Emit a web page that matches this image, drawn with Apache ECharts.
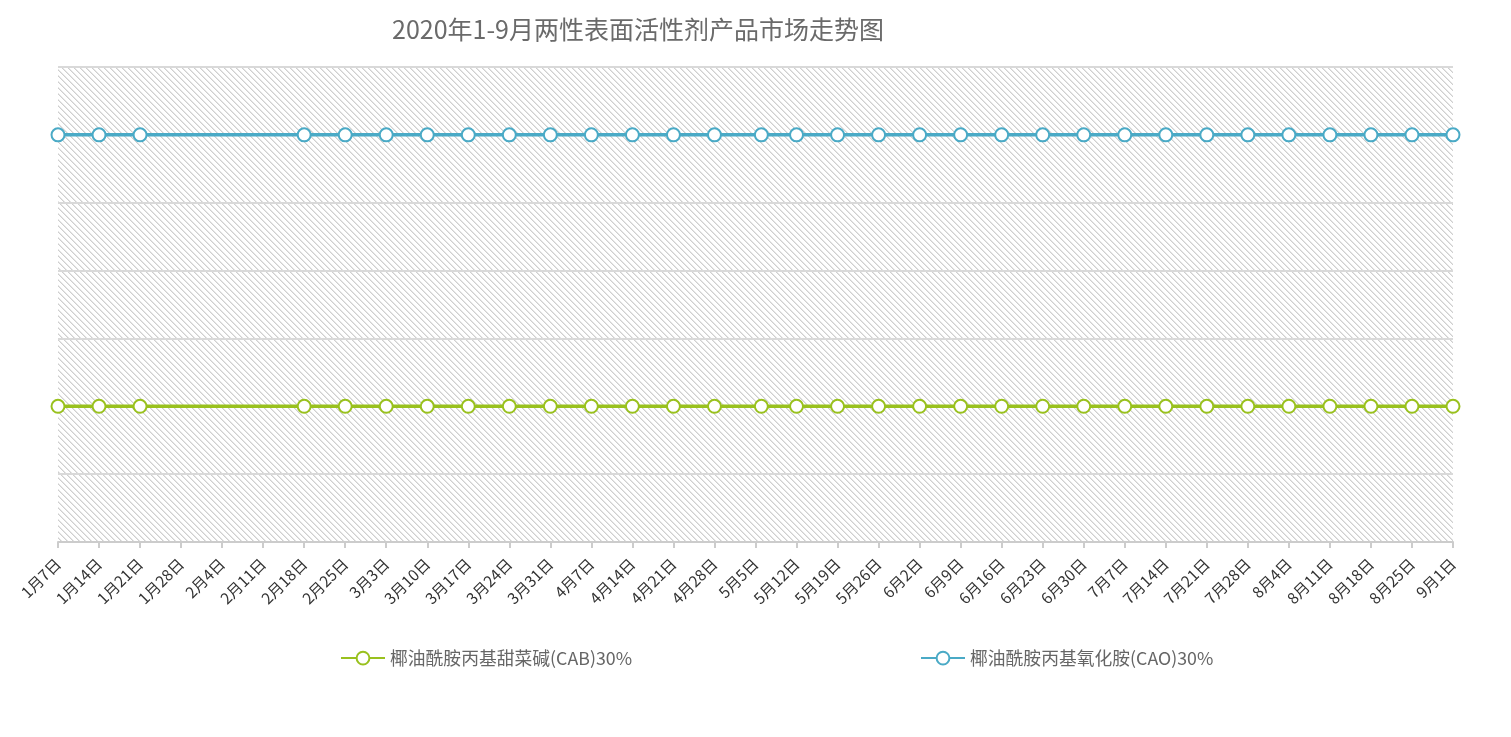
<!DOCTYPE html>
<html>
<head>
<meta charset="utf-8">
<script src="https://cdn.jsdelivr.net/npm/echarts@6/dist/echarts.min.js"></script>
<style>
html,body{margin:0;padding:0;background:#fff;}
#main{width:1511px;height:737px;}
</style>
</head>
<body>
<div id="main"></div>
<script>
// Weekly tick labels (axis spans 1月7日 .. 9月1日, 2020)
var tickLabels = ['1月7日','1月14日','1月21日','1月28日','2月4日','2月11日','2月18日','2月25日','3月3日','3月10日','3月17日','3月24日','3月31日','4月7日','4月14日','4月21日','4月28日','5月5日','5月12日','5月19日','5月26日','6月2日','6月9日','6月16日','6月23日','6月30日','7月7日','7月14日','7月21日','7月28日','8月4日','8月11日','8月18日','8月25日','9月1日'];
// Observation dates (month-day)
var obsDates = ['1-7','1-14','1-21','2-18','2-25','3-3','3-10','3-17','3-24','3-31','4-7','4-14','4-21','4-28','5-6','5-12','5-19','5-26','6-2','6-9','6-16','6-23','6-30','7-7','7-14','7-21','7-28','8-4','8-11','8-18','8-25','9-1'];
var cabValues = [2000,2000,2000,2000,2000,2000,2000,2000,2000,2000,2000,2000,2000,2000,2000,2000,2000,2000,2000,2000,2000,2000,2000,2000,2000,2000,2000,2000,2000,2000,2000,2000];
var caoValues = [6000,6000,6000,6000,6000,6000,6000,6000,6000,6000,6000,6000,6000,6000,6000,6000,6000,6000,6000,6000,6000,6000,6000,6000,6000,6000,6000,6000,6000,6000,6000,6000];
var seriesNames = ['椰油酰胺丙基甜菜碱(CAB)30%','椰油酰胺丙基氧化胺(CAO)30%'];
var titleText = '2020年1-9月两性表面活性剂产品市场走势图';

function dayOfYear(md){
  var p = md.split('-');
  var d = new Date(2020, +p[0]-1, +p[1]);
  var s = new Date(2020, 0, 0);
  return Math.round((d - s) / 86400000);
}
var obsDays = obsDates.map(dayOfYear);
function pairs(vals){ return obsDays.map(function(d,i){ return [d, vals[i]]; }); }

// hatched background pattern
var pc = document.createElement('canvas');
pc.width = 6; pc.height = 6;
var pctx = pc.getContext('2d');
pctx.fillStyle = '#ffffff';
pctx.fillRect(0,0,6,6);
pctx.fillStyle = '#cfcfcf';
for (var i=0;i<6;i++){ pctx.fillRect(i,i,1,1); }
pctx.fillStyle = '#e6e6e6';
for (var j=0;j<6;j++){ pctx.fillRect((j+1)%6,j,1,1); }

var chart = echarts.init(document.getElementById('main'));
var font = '"Noto Sans CJK SC","Open Sans",sans-serif';
chart.setOption({
  animation:false,
  title:{ text:titleText, left:387, top:12, textStyle:{ fontSize:25, fontWeight:'normal', color:'#6a6a6a', fontFamily:font } },
  legend:{ bottom:65, left:335, itemGap:288, itemWidth:44, itemHeight:16,
    textStyle:{ fontSize:17.8, color:'#666', fontFamily:font },
    data:seriesNames },
  grid:{ left:58, right:58, top:67, bottom:195, show:true, borderWidth:0, backgroundColor:{ image:pc, repeat:'repeat' } },
  xAxis:{ type:'value', min:7, max:245, interval:7,
    axisLine:{ lineStyle:{ color:'#cccccc', width:2 } },
    axisTick:{ show:true, length:6, lineStyle:{ color:'#cccccc', width:2 } },
    splitLine:{ show:false },
    axisLabel:{ rotate:45, margin:19, fontSize:15.5, color:'#333', fontFamily:font,
      formatter:function(v){ var idx = Math.round((v-7)/7); return tickLabels[idx] || ''; } } },
  yAxis:{ type:'value', min:0, max:7000, interval:1000,
    axisLabel:{ show:false }, axisLine:{ show:false }, axisTick:{ show:false },
    splitLine:{ lineStyle:{ color:'#d9d9d9', width:2 } } },
  series:[
    { name:seriesNames[0], type:'line', data:pairs(cabValues), symbol:'emptyCircle', symbolSize:13,
      itemStyle:{ color:'#99c11e', borderWidth:3 }, lineStyle:{ width:3.5, color:'#99c11e' } },
    { name:seriesNames[1], type:'line', data:pairs(caoValues), symbol:'emptyCircle', symbolSize:13,
      itemStyle:{ color:'#4aaac6', borderWidth:3 }, lineStyle:{ width:3.5, color:'#4aaac6' } }
  ]
});
</script>
</body>
</html>
